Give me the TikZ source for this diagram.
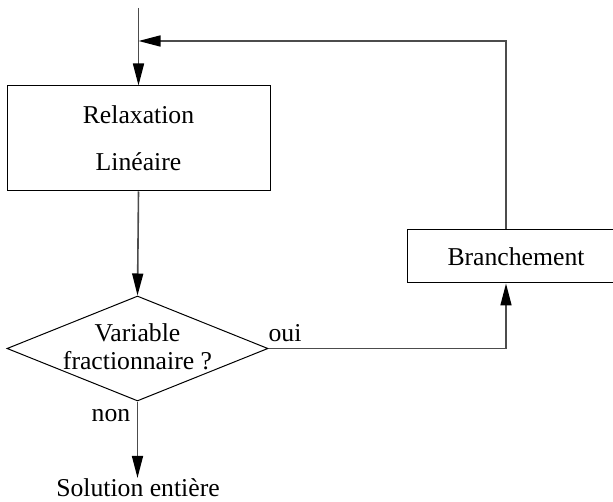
\documentclass[tikz,border=0pt]{standalone}
\usepackage{fontspec}
\setmainfont{Liberation Serif}
\usetikzlibrary{arrows.meta,shapes.geometric}
\begin{document}
\begin{tikzpicture}[x=1pt,y=-1pt,
  every node/.style={font=\fontsize{25.7}{30}\selectfont},
  procbox/.style={draw, line width=1pt, inner sep=0pt},
  decision/.style={draw, diamond, line width=1pt, inner sep=0pt,
    minimum width=261pt, minimum height=105pt},
  flow/.style={line width=1.6pt, draw=black!70,
    -{Triangle[length=22pt,width=11pt,color=black]}},
  lbl/.style={inner sep=0pt, anchor=base}]
\clip (0,0) rectangle (613,502);

% process boxes and the test
\node[procbox, minimum width=263pt, minimum height=105pt, align=center,
      font=\fontsize{25.7}{47}\selectfont] (relax) at (138.5,138.5) {Relaxation\\Linéaire};
\node[decision] (dec) at (137.5,348.5) {};
\node[align=center, inner sep=0pt, font=\fontsize{25.7}{28}\selectfont]
      (dectext) at (137.5,346.5) {Variable\\fractionnaire ?};
\node[procbox, minimum width=218pt, minimum height=53pt] (branch) at (516,256.5) {Branchement};

% labels
\node[lbl] (sol) at (138,496) {Solution entière};
\node[lbl] (oui) at (285,342) {oui};
\node[lbl] (non) at (111,421) {non};

% routing points
\coordinate (start) at (138.5,8);
\coordinate (join) at (138.5,41);
\coordinate (rise) at (506,348.5);
\coordinate (turn) at (506,41);

% connectors
\draw[flow] (start) -- (relax.north);
\draw[flow] (relax.south) -- (dec.north);
\draw[flow] (dec.south) -- (dec.south |- sol.north);
\draw[flow] (dec.east) -- (rise) -- (rise |- branch.south);
\draw[flow] (rise |- branch.north) -- (turn) -- (join);
\end{tikzpicture}
\end{document}
